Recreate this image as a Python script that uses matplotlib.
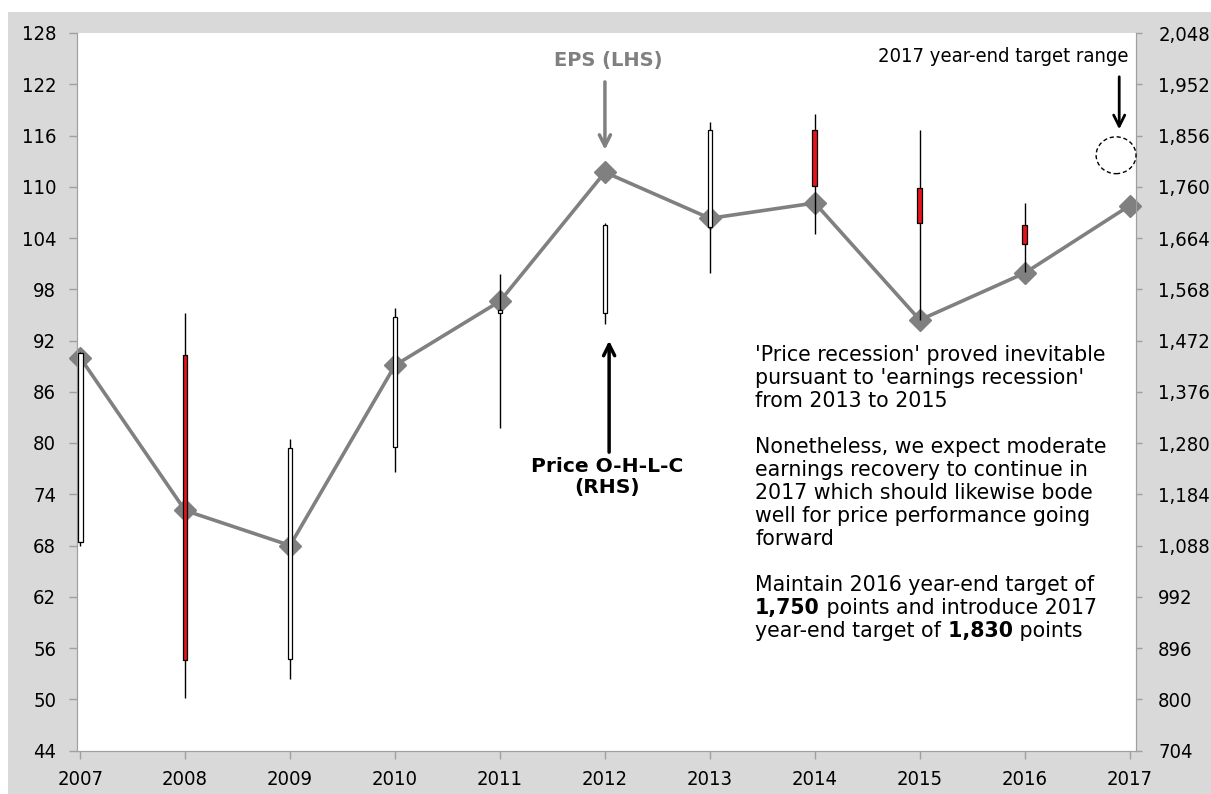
import numpy as np
import matplotlib.pyplot as plt
from matplotlib.patches import Rectangle, Ellipse
from matplotlib.ticker import FuncFormatter

plt.rcParams['font.family'] = ['DejaVu Sans']
plt.rcParams['font.stretch'] = 'condensed'

# Yearly data: EPS (left axis) and index price O-H-L-C (right axis)
years = [2007, 2008, 2009, 2010, 2011, 2012, 2013, 2014, 2015, 2016, 2017]
eps = [90.0, 72.1, 68.0, 89.1, 96.6, 111.7, 106.3, 108.1, 94.4, 99.9, 107.8]

ohlc_years = [2007, 2008, 2009, 2010, 2011, 2012, 2013, 2014, 2015, 2016]
p_open = [1094, 1444, 876, 1272, 1523, 1523, 1684, 1866, 1757, 1688]
p_high = [1450, 1523, 1287, 1533, 1596, 1692, 1881, 1896, 1866, 1729]
p_low = [1088, 803, 837, 1225, 1309, 1503, 1598, 1671, 1510, 1600]
p_close = [1448, 873, 1270, 1516, 1529, 1688, 1866, 1761, 1692, 1652]

target_2017 = 1819

# note text, one entry per line; bold runs marked as (text, True)
note_lines = [
    [("'Price recession' proved inevitable", False)],
    [("pursuant to 'earnings recession'", False)],
    [("from 2013 to 2015", False)],
    [],
    [("Nonetheless, we expect moderate", False)],
    [("earnings recovery to continue in", False)],
    [("2017 which should likewise bode", False)],
    [("well for price performance going", False)],
    [("forward", False)],
    [],
    [("Maintain 2016 year-end target of", False)],
    [("1,750", True), (" points and introduce 2017", False)],
    [("year-end target of", False), (" 1,830", True), (" points", False)],
]

fig = plt.figure(figsize=(12.11, 7.94), dpi=100)
fig.patch.set_facecolor('white')
fig.add_artist(Rectangle((8 / 1211, 0), 1, (794 - 12) / 794, transform=fig.transFigure,
                         facecolor='#d9d9d9', edgecolor='none', zorder=-10))

ax = fig.add_axes([77 / 1211, 43.5 / 794, 1059 / 1211, 717.5 / 794])
ax.set_facecolor('white')
ax2 = ax.twinx()

spine_col = '#a0a0a0'
fs = 14.5

# EPS line
ax.plot(years, eps, color='#808080', lw=2.6, marker='D', markersize=11,
        markerfacecolor='#808080', markeredgecolor='#808080', zorder=3, clip_on=False)
ax.set_ylim(44, 128)
ax.set_yticks(np.arange(44, 129, 6))
ax.set_xlim(2006.97, 2017.06)
ax.set_xticks(years)

# candlesticks
for i, yr in enumerate(ohlc_years):
    up = p_close[i] >= p_open[i]
    ax2.vlines(yr, p_low[i], p_high[i], color='black', lw=1.0, zorder=2)
    lo = min(p_open[i], p_close[i])
    hi = max(p_open[i], p_close[i])
    ax2.bar(yr, hi - lo, bottom=lo, width=0.045, color='white' if up else '#e8141c',
            edgecolor='black', linewidth=0.9, zorder=3)
ax2.set_ylim(704, 2048)
ax2.set_yticks(np.arange(704, 2049, 96))
ax2.yaxis.set_major_formatter(FuncFormatter(lambda v, p: f'{int(v):,}'))

# dashed target circle
ax2.add_patch(Ellipse((2016.87, target_2017), 0.38, 69, fill=False, edgecolor='black',
                      linestyle=(0, (3, 2)), lw=1.0, zorder=4, clip_on=False))

for a in (ax, ax2):
    a.spines['top'].set_visible(False)
    for s in ('left', 'right', 'bottom'):
        a.spines[s].set_color(spine_col)
ax.tick_params(axis='y', length=6, width=1, color=spine_col, pad=9, labelsize=fs)
ax.tick_params(axis='x', length=6, width=1, color=spine_col, pad=8, labelsize=fs)
ax2.tick_params(axis='y', length=4, width=1, color=spine_col, pad=12, labelsize=fs)

# annotations
ax.annotate('', xy=(2012, 114.0), xytext=(2012, 122.6),
            arrowprops=dict(arrowstyle='->,head_length=0.8,head_width=0.4', color='#808080', lw=2.5))
ax.text(2012.03, 124.8, 'EPS (LHS)', color='#808080', fontweight='bold', fontsize=14,
        fontstretch='normal', ha='center', va='center')

ax.annotate('', xy=(2012.04, 92.3), xytext=(2012.04, 78.6),
            arrowprops=dict(arrowstyle='->,head_length=0.8,head_width=0.4', color='black', lw=2.5))
ax.text(2012.02, 76.0, 'Price O-H-L-C\n(RHS)', color='black', fontweight='bold', fontsize=14.6,
        fontstretch='normal', ha='center', va='center', linespacing=1.15)

ax.annotate('', xy=(2016.9, 116.4), xytext=(2016.9, 123.2),
            arrowprops=dict(arrowstyle='->,head_length=0.8,head_width=0.4', color='black', lw=2.0),
            annotation_clip=False)
ax.text(1.0 - 8 / 1059, 125.2, '2017 year-end target range', color='black', fontsize=fs,
        ha='right', va='center', transform=ax.get_yaxis_transform())

# note block, line by line, bold runs chained after the previous run
nfs = 14.8
x0 = (755 - 77) / 1059
step = 23 / 717.5
ytop = (750.5 - 361) / 717.5
for k, runs in enumerate(note_lines):
    prev = None
    for txt, bold in runs:
        w = 'bold' if bold else 'normal'
        if prev is None:
            prev = ax.text(x0, ytop - k * step, txt, transform=ax.transAxes, fontsize=nfs,
                           fontweight=w, fontstretch='normal', ha='left', va='baseline')
        else:
            prev = ax.annotate(txt, xy=(1, 0), xycoords=prev, fontsize=nfs, fontweight=w,
                               fontstretch='normal', ha='left', va='bottom')

fig.savefig('out.png', dpi=100)
